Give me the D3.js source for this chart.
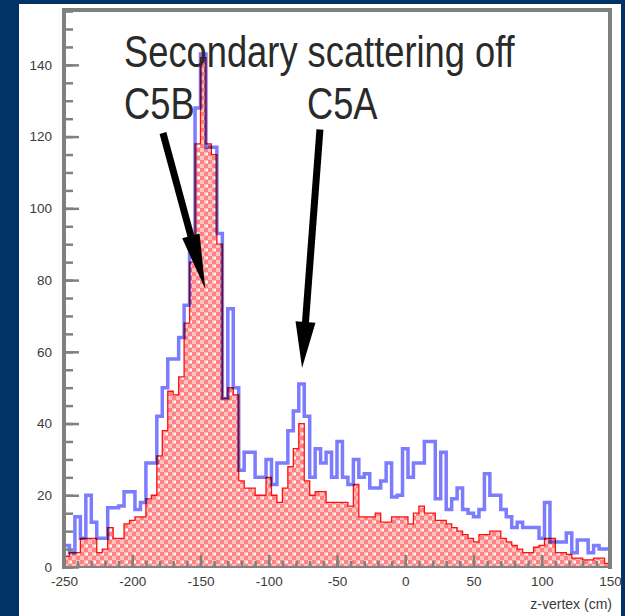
<!DOCTYPE html>
<html><head><meta charset="utf-8">
<script src="https://cdn.jsdelivr.net/npm/d3@7"></script>
<style>body{margin:0;background:#fff} svg{display:block} text{font-family:"Liberation Sans",Arial,sans-serif}</style>
</head><body>
<script>
// ---- data ----
const binLow = -250, binWidth = 4;
const blueCounts = [6,4,14,8,20,12.5,8,8,16.5,16.5,
  17,21,21,16,18,29,29,42,50,58,
  58,64,73,90,128,143,117,117,93,47,
  72,50,27,32,32,25,25,30,23,29,
  29,38,43.5,51,42,25,33,29,32,25,
  35,25,23,30,25,26,22,22,24,29,
  19.5,20,33,25,29,29,35,35,19,32,
  16,19,22,16,15,14,16,26,20,20,
  16,14,11,12.5,11,11,11,8,18,7,
  7,7,9.5,4,7.5,7.5,4,6,5,5];
const redCounts = [3,4,4,8,8,8,4,5,11,8,
  8,12,13,14,14,19,20,31,38,49,
  48,53,68,85,118,142,118,115,90,47,
  50,48,24,22,22,20,20,25,20,18,
  22,28,33,40,24,20,21,21,18,18,
  18,18,17,23,14,14,14,15,12.5,12.5,
  14,14,14,12,15,17,15,15,13,13,
  12,11,10,9,8,7,9,9,10,10,
  8,7,6,5,4,4,5.5,6,8,8,
  4,4,3.5,2.5,2.5,2,2,2.5,2.5,1];
const xTickValues = [-250,-200,-150,-100,-50,0,50,100,150];
const yTickValues = [0,20,40,60,80,100,120,140];
const xTitle = "z-vertex (cm)";
const labelTexts = ["Secondary scattering off","C5B","C5A"];
const labelX = [-206,-206,-72];
const labelY = [139.4,124.9,124.9];
const arrowFrom = [[-177.5,121],[-62.5,122]];
const arrowTo = [[-146.5,77.5],[-75.6,55.5]];

// ---- layout ----
const W=625,H=616;
const svg = d3.select("body").append("svg").attr("width",W).attr("height",H);
svg.append("rect").attr("width",W).attr("height",H).attr("fill","#003366");
svg.append("rect").attr("x",19).attr("y",4).attr("width",602).attr("height",612).attr("fill","#fff");

const x = d3.scaleLinear().domain([-250,150]).range([64,610]);
const y = d3.scaleLinear().domain([0,155.3]).range([567,10]);

const defs = svg.append("defs");
const pat = defs.append("pattern").attr("id","hatch").attr("patternUnits","userSpaceOnUse")
  .attr("width",8).attr("height",8);
pat.append("rect").attr("width",8).attr("height",8).attr("fill","#ffc2c2");
pat.append("rect").attr("width",4).attr("height",4).attr("fill","#ff8282");
pat.append("rect").attr("x",4).attr("y",4).attr("width",4).attr("height",4).attr("fill","#ff8282");
pat.append("rect").attr("x",6).attr("y",1).attr("width",2).attr("height",2).attr("fill","#ffffff");
defs.append("clipPath").attr("id","plotclip").append("rect")
  .attr("x",64).attr("y",10).attr("width",546).attr("height",557);

function stepPoints(counts){
  const pts=[[binLow,0]];
  counts.forEach((c,i)=>{pts.push([binLow+i*binWidth,c]);pts.push([binLow+(i+1)*binWidth,c]);});
  pts.push([binLow+counts.length*binWidth,0]);
  return pts;
}
const line = d3.line().x(d=>x(d[0])).y(d=>y(d[1]));

const plot = svg.append("g").attr("clip-path","url(#plotclip)");
plot.append("path").attr("d",line(stepPoints(redCounts))+"Z")
  .attr("fill","url(#hatch)").attr("stroke","#ff1010").attr("stroke-width",1.3);
plot.append("path").attr("d",line(stepPoints(blueCounts)))
  .attr("fill","none").attr("stroke","#7c7cff").attr("stroke-width",3.5)
  .style("mix-blend-mode","multiply");

// ---- axes ----
const axisColor="#808080", labelColor="#3a3a3a";
const gxMinor = svg.append("g").attr("transform","translate(0,567)")
  .call(d3.axisBottom(x).tickValues(d3.range(-250,151,10)).tickSize(-6).tickFormat(""));
const gx = svg.append("g").attr("transform","translate(0,567)")
  .call(d3.axisBottom(x).tickValues(xTickValues).tickSize(-12).tickPadding(9).tickFormat(d=>String(d)));
const gyMinor = svg.append("g").attr("transform","translate(64,0)")
  .call(d3.axisLeft(y).tickValues(d3.range(0,156,5)).tickSize(-9).tickFormat(""));
const gy = svg.append("g").attr("transform","translate(64,0)")
  .call(d3.axisLeft(y).tickValues(yTickValues).tickSize(-15).tickPadding(12).tickFormat(d=>String(d)));
[gx,gxMinor,gy,gyMinor].forEach(g=>{
  g.select(".domain").remove();
  g.selectAll("line").attr("stroke",axisColor).attr("stroke-width",2.5);
  g.selectAll("text").attr("fill",labelColor).attr("font-size",13.5).attr("font-family","Liberation Sans, Arial, sans-serif");
});

// frame
svg.append("line").attr("x1",x(-250)).attr("x2",x(-250)).attr("y1",8).attr("y2",569).attr("stroke",axisColor).attr("stroke-width",4);
svg.append("line").attr("x1",62).attr("x2",612).attr("y1",y(0)).attr("y2",y(0)).attr("stroke",axisColor).attr("stroke-width",2);
svg.append("line").attr("x1",62).attr("x2",612).attr("y1",10).attr("y2",10).attr("stroke",axisColor).attr("stroke-width",4);
svg.append("line").attr("x1",x(150)).attr("x2",x(150)).attr("y1",8).attr("y2",569).attr("stroke",axisColor).attr("stroke-width",4);

svg.append("text").attr("x",612).attr("y",609).attr("text-anchor","end")
  .attr("font-size",14).attr("fill",labelColor).text(xTitle);

// ---- annotations ----
labelTexts.forEach((t,i)=>{
  svg.append("text").attr("transform",`translate(${x(labelX[i])},${y(labelY[i])}) scale(1,1.2)`)
    .attr("font-size",36.3).attr("fill","#2a2a2a").text(t);
});
const headLen=[55,46], headHalf=[9,10];
arrowFrom.forEach((f,i)=>{
  const x1=x(f[0]), y1=y(f[1]), x2=x(arrowTo[i][0]), y2=y(arrowTo[i][1]);
  const dx=x2-x1, dy=y2-y1, L=Math.hypot(dx,dy), ux=dx/L, uy=dy/L;
  const bx=x2-ux*headLen[i], by=y2-uy*headLen[i];
  svg.append("line").attr("x1",x1).attr("y1",y1).attr("x2",bx+ux*4).attr("y2",by+uy*4)
    .attr("stroke","#000").attr("stroke-width",7);
  const px=-uy, py=ux;
  svg.append("path").attr("d",`M${x2},${y2}L${bx+px*headHalf[i]},${by+py*headHalf[i]}L${bx-px*headHalf[i]},${by-py*headHalf[i]}Z`)
    .attr("fill","#000");
});
</script>
</body></html>
